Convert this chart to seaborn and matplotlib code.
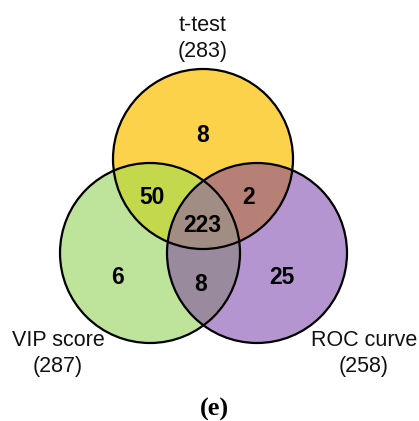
import numpy as np
import matplotlib
matplotlib.use("Agg")
import matplotlib.pyplot as plt
from matplotlib.patches import Circle
import seaborn as sns

# Set names and sizes
set_names = ["t-test", "VIP score", "ROC curve"]
set_totals = [283, 287, 258]

# Exclusive region counts
only_t = 8
only_vip = 6
only_roc = 25
t_vip = 50
t_roc = 2
vip_roc = 8
all_three = 223

sns.set_theme(style="white")
plt.rcParams["font.family"] = ["Liberation Sans", "DejaVu Sans"]

W, H = 419, 421
fig = plt.figure(figsize=(W / 100, H / 100), dpi=100)
ax = fig.add_axes([0, 0, 1, 1])
ax.set_xlim(0, W)
ax.set_ylim(H, 0)
ax.axis("off")

# circle layout (canvas units)
R = 90
centers = {"t": (203, 159), "vip": (150, 253), "roc": (257, 253)}

# fill colours per region, keyed by membership (t, vip, roc)
region_colors = {
    (1, 0, 0): "#fcd24a",
    (0, 1, 0): "#bfe39a",
    (0, 0, 1): "#b595cf",
    (1, 1, 0): "#c4d84c",
    (1, 0, 1): "#b88078",
    (0, 1, 1): "#9b8a9e",
    (1, 1, 1): "#a28d85",
}

# rasterise region membership on a fine grid
s = 4
xs = (np.arange(W * s) + 0.5) / s
ys = (np.arange(H * s) + 0.5) / s
X, Y = np.meshgrid(xs, ys)
inside = {k: (X - c[0]) ** 2 + (Y - c[1]) ** 2 <= R ** 2 for k, c in centers.items()}
img = np.ones((H * s, W * s, 4))
img[..., 3] = 0
for key, col in region_colors.items():
    m = (inside["t"] == bool(key[0])) & (inside["vip"] == bool(key[1])) & (inside["roc"] == bool(key[2]))
    rgb = matplotlib.colors.to_rgb(col)
    img[m, :3] = rgb
    img[m, 3] = 1
ax.imshow(img, extent=(0, W, H, 0), interpolation="antialiased", zorder=1)

for k, c in centers.items():
    ax.add_patch(Circle(c, R, fill=False, edgecolor="black", lw=1.6, zorder=2))

# region counts
counts = [only_t, t_vip, t_roc, all_three, only_vip, vip_roc, only_roc]
count_pos = [(203, 142), (152, 204), (249, 204), (202, 232), (117, 284), (201, 291), (282, 284)]
for n, (x, y) in zip(counts, count_pos):
    ax.text(x, y, str(n), ha="center", va="baseline", fontsize=16.5,
            fontweight="bold", color="black", zorder=3)

# set labels
label_pos = [(203, 31, 57), (58, 346, 372), (364, 346, 372)]
for name, tot, (x, y1, y2) in zip(set_names, set_totals, label_pos):
    ax.text(x, y1, name, ha="center", va="baseline", fontsize=15.5, color="#111111")
    ax.text(x, y2, f"({tot})", ha="center", va="baseline", fontsize=15.5, color="#111111")

ax.text(214, 416, "(e)", ha="center", va="baseline", fontsize=19,
        family="Liberation Serif", fontweight="bold", color="black")

fig.savefig("out.png", dpi=100)
